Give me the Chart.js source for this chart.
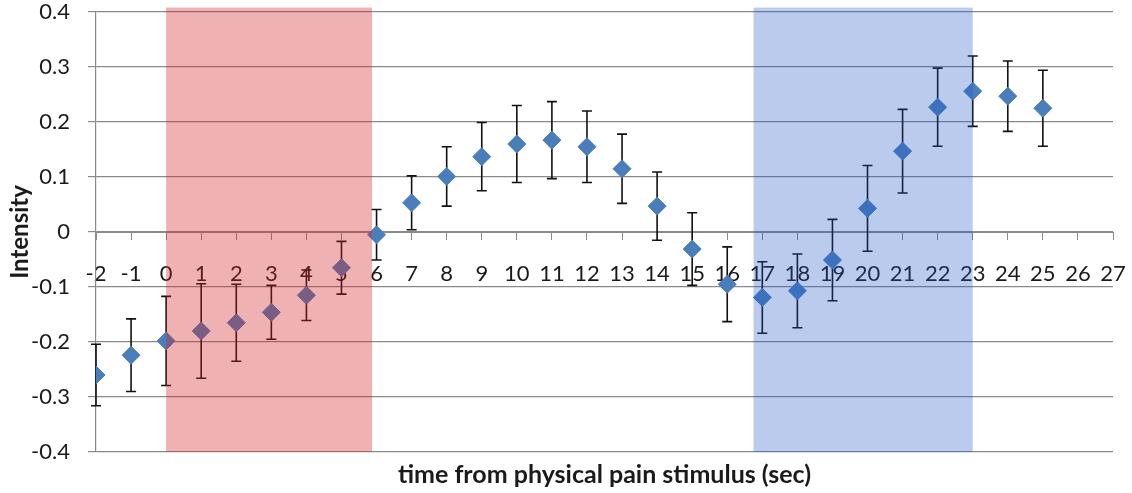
<!DOCTYPE html>
<html>
<head>
<meta charset="utf-8">
<script src="https://cdn.jsdelivr.net/npm/chart.js@4.4.1/dist/chart.umd.min.js"></script>
<style>
  body { margin: 0; background: #fff; }
  #wrap { width: 1132px; height: 493px; }
</style>
</head>
<body>
<div id="wrap"><canvas id="myChart"></canvas></div>
<script>
// seconds relative to the physical pain stimulus
const times = [-2, -1, 0, 1, 2, 3, 4, 5, 6, 7, 8, 9, 10, 11, 12, 13, 14, 15, 16, 17, 18, 19, 20, 21, 22, 23, 24, 25];
const intensity = [-0.260, -0.224, -0.198, -0.180, -0.165, -0.146, -0.115, -0.065, -0.005, 0.053, 0.101, 0.137,
                   0.160, 0.167, 0.155, 0.115, 0.047, -0.031, -0.095, -0.119, -0.107, -0.051, 0.043, 0.147,
                   0.227, 0.256, 0.247, 0.225];
const errors = [0.056, 0.066, 0.081, 0.086, 0.070, 0.049, 0.046, 0.048, 0.046, 0.049, 0.054, 0.062,
                0.070, 0.070, 0.065, 0.063, 0.062, 0.066, 0.068, 0.065, 0.067, 0.074, 0.078, 0.076,
                0.071, 0.064, 0.064, 0.069];
const painWindow = [0, 5.87];
const reliefWindow = [16.75, 23];

const gridGray = '#8a8a8a';
const tickFont = { family: 'Lato', size: 22 };

const points = times.map(function (t, i) { return { x: t, y: intensity[i] }; });

// whiskers, drawn under the diamonds
const errorBars = {
  id: 'errorBars',
  beforeDatasetsDraw(chart) {
    const ctx = chart.ctx, xs = chart.scales.x, ys = chart.scales.y;
    ctx.save();
    ctx.strokeStyle = '#111';
    ctx.lineWidth = 1.6;
    times.forEach(function (t, i) {
      const px = xs.getPixelForValue(t);
      const top = ys.getPixelForValue(intensity[i] + errors[i]);
      const bot = ys.getPixelForValue(intensity[i] - errors[i]);
      ctx.beginPath();
      ctx.moveTo(px, top); ctx.lineTo(px, bot);
      ctx.moveTo(px - 5, top); ctx.lineTo(px + 5, top);
      ctx.moveTo(px - 5, bot); ctx.lineTo(px + 5, bot);
      ctx.stroke();
    });
    ctx.restore();
  }
};

// translucent windows laid over everything
const windows = {
  id: 'windows',
  afterDatasetsDraw(chart) {
    const ctx = chart.ctx, xs = chart.scales.x, ys = chart.scales.y;
    const top = ys.getPixelForValue(0.408), bot = ys.getPixelForValue(-0.4);
    ctx.save();
    ctx.fillStyle = 'rgba(209,32,34,0.35)';
    let l = xs.getPixelForValue(painWindow[0]), r = xs.getPixelForValue(painWindow[1]);
    ctx.fillRect(l, top, r - l, bot - top);
    ctx.fillStyle = 'rgba(28,82,198,0.30)';
    l = xs.getPixelForValue(reliefWindow[0]); r = xs.getPixelForValue(reliefWindow[1]);
    ctx.fillRect(l, top, r - l, bot - top);
    ctx.restore();
  }
};

function noPadding(scale) {
  scale.paddingTop = 0; scale.paddingBottom = 0;
  scale.paddingLeft = 0; scale.paddingRight = 0;
}

const config = {
  type: 'scatter',
  data: {
    datasets: [{
      data: points,
      pointStyle: 'rectRot',
      pointRadius: 9,
      pointHoverRadius: 9,
      backgroundColor: '#4a7ebb',
      borderColor: '#4a7ebb',
      borderWidth: 1
    }]
  },
  options: {
    responsive: true,
    maintainAspectRatio: false,
    animation: false,
    layout: { padding: { left: 6, right: 19, top: 12, bottom: 0 } },
    plugins: { legend: { display: false }, tooltip: { enabled: false } },
    scales: {
      x: {
        type: 'linear',
        position: { y: 0 },
        min: -2,
        max: 27,
        ticks: { stepSize: 1, autoSkip: false, maxRotation: 0, font: tickFont, color: '#1a1a1a', padding: 22 },
        grid: { drawOnChartArea: false, drawTicks: true, tickLength: 7, color: gridGray },
        border: { color: gridGray },
        afterFit: noPadding
      },
      x2: {
        type: 'linear',
        position: 'bottom',
        min: -2,
        max: 27,
        ticks: { display: false },
        grid: { display: false },
        border: { display: false },
        title: {
          display: true,
          text: 'time from physical pain stimulus (sec)',
          font: { family: 'Lato', size: 25, weight: 'bold' },
          color: '#1a1a1a',
          padding: { top: 0, bottom: 3 }
        },
        afterFit(scale) { noPadding(scale); scale.height = 41; }
      },
      y: {
        min: -0.4,
        max: 0.4,
        ticks: {
          stepSize: 0.1,
          font: tickFont,
          color: '#1a1a1a',
          padding: 18,
          callback: function (v) { const r = Math.round(v * 10) / 10; return r === 0 ? '0' : r.toFixed(1); }
        },
        grid: { color: gridGray, tickLength: 8, lineWidth: 1.2 },
        border: { color: gridGray, width: 1.2 },
        title: {
          display: true,
          text: 'Intensity',
          font: { family: 'Lato', size: 24, weight: 'bold' },
          color: '#1a1a1a',
          padding: { top: 0, bottom: 0 }
        },
        afterFit(scale) { noPadding(scale); scale.width = 90; }
      }
    }
  },
  plugins: [errorBars, windows]
};

new Chart(document.getElementById('myChart'), config);
</script>
</body>
</html>
